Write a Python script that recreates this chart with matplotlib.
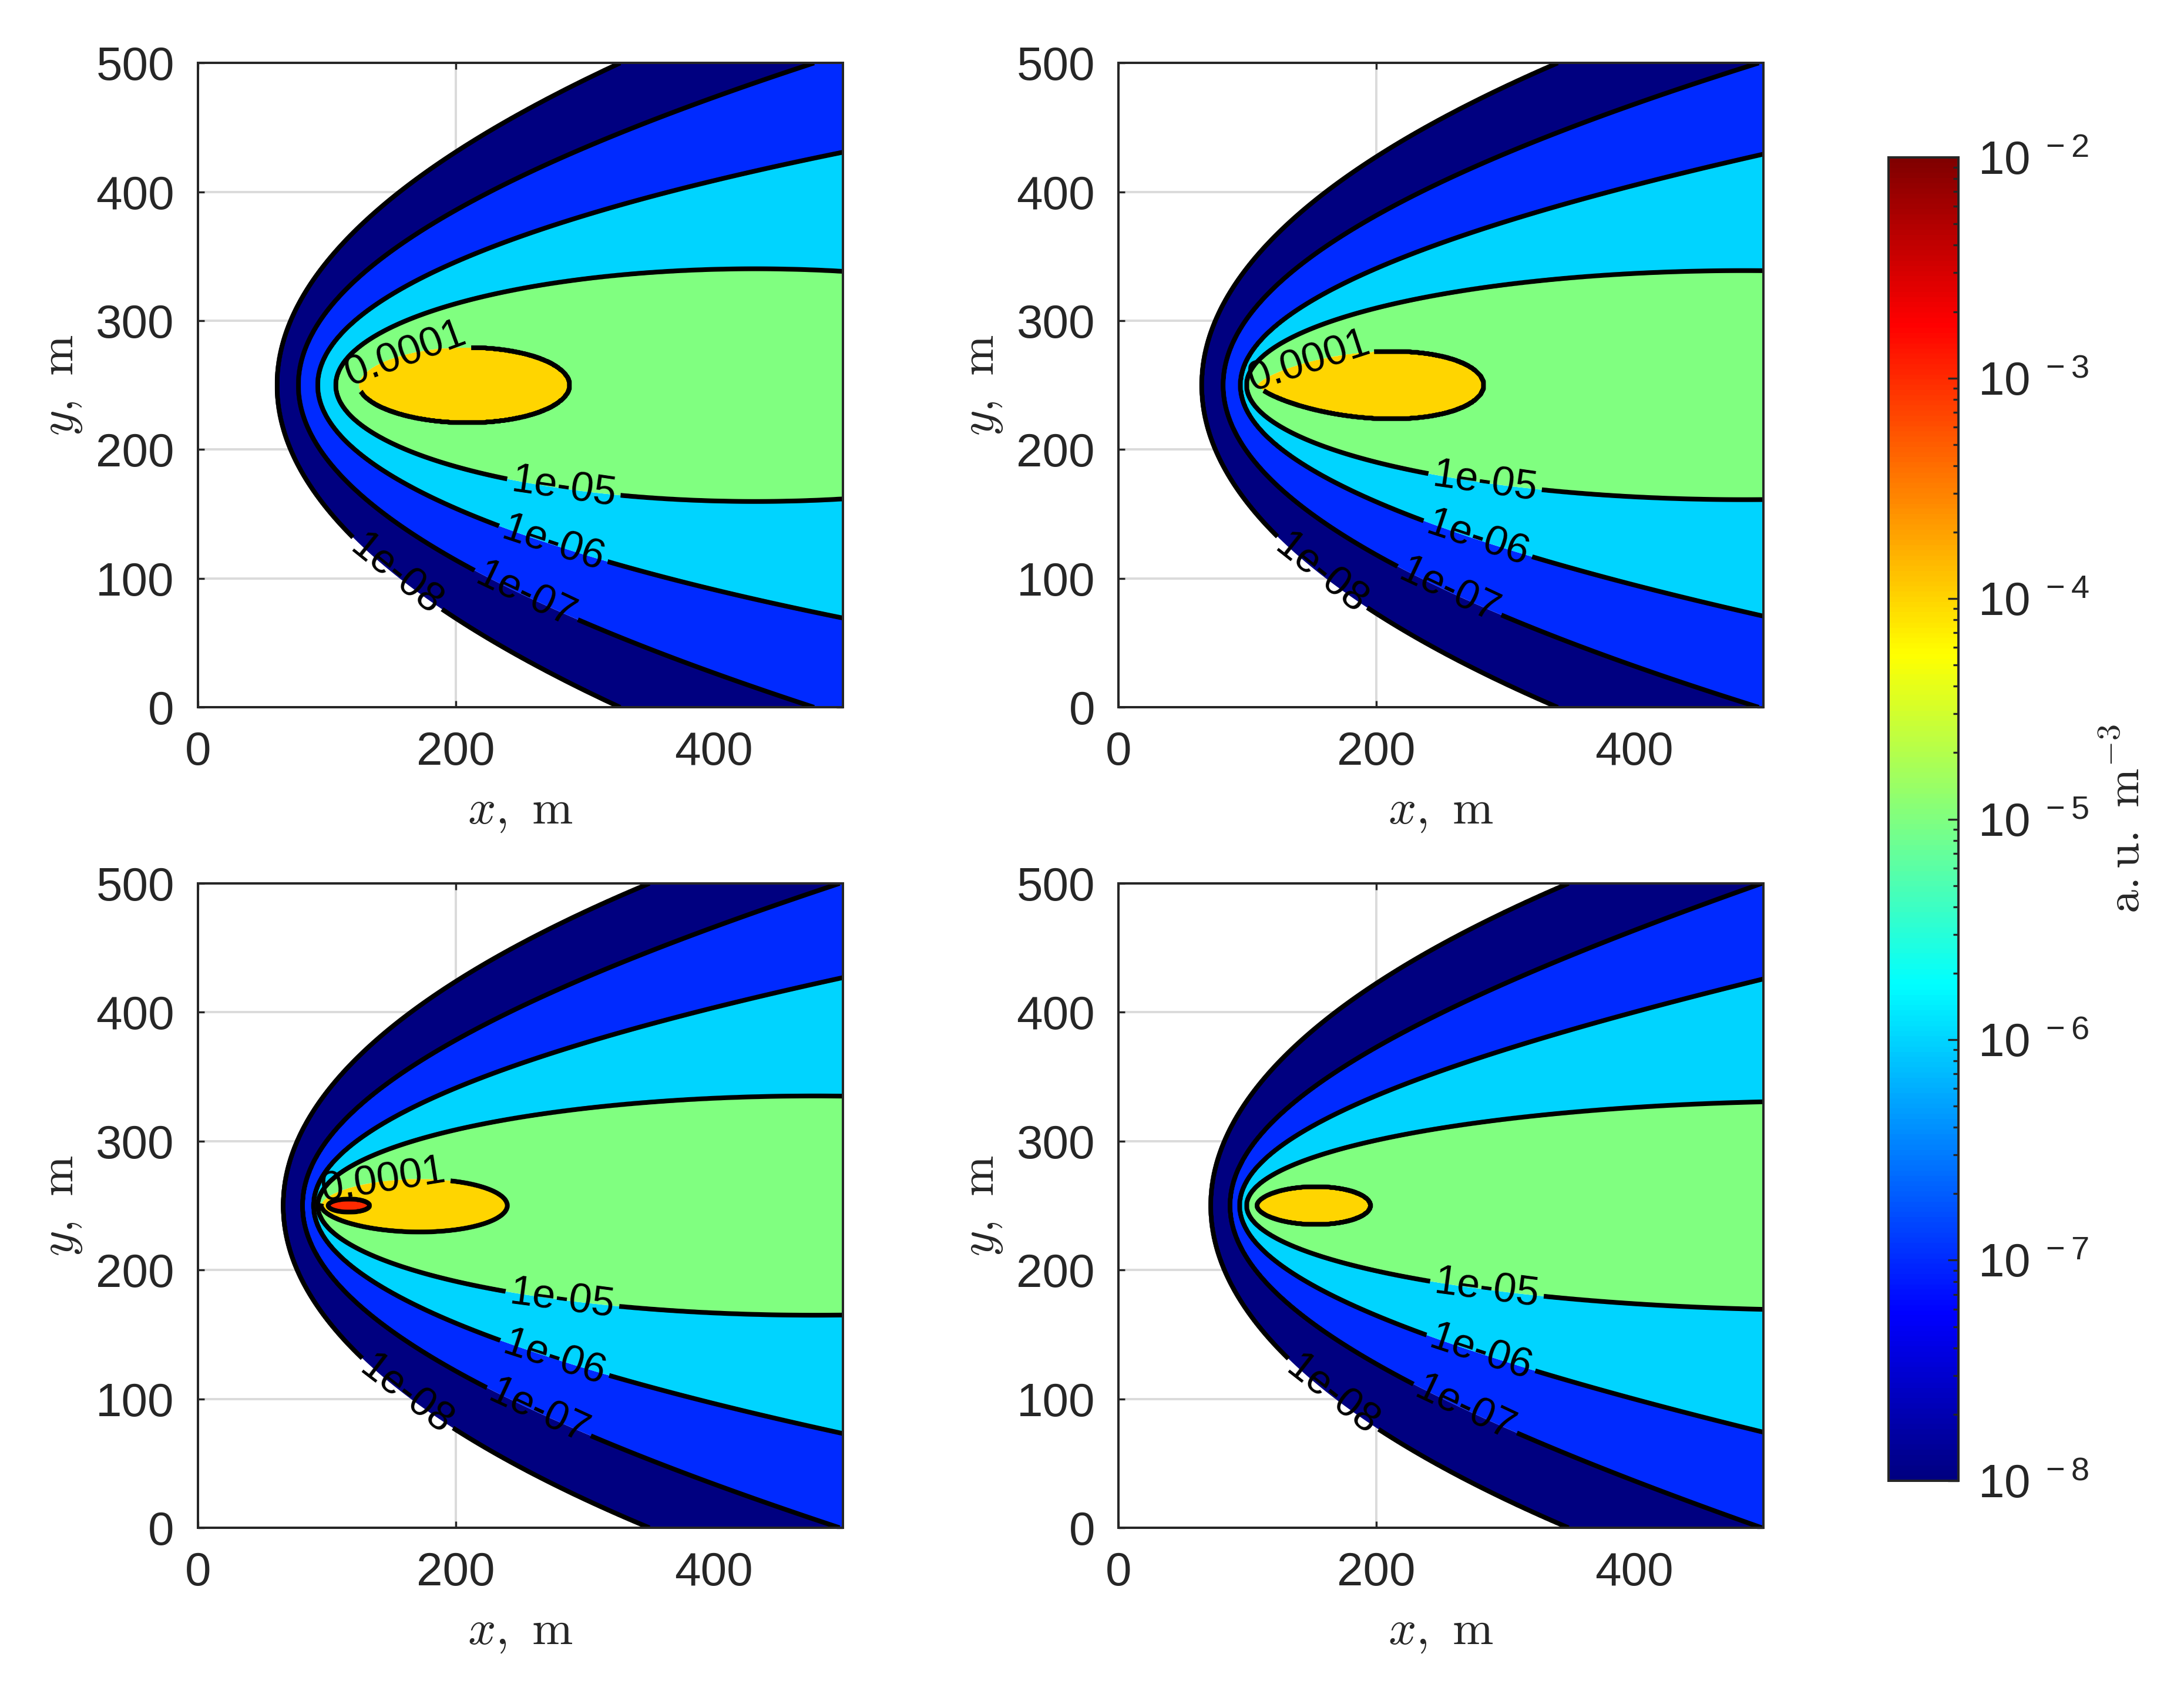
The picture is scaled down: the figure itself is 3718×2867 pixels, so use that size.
import numpy as np
import matplotlib
matplotlib.use("Agg")
import matplotlib.pyplot as plt
from matplotlib.colors import ListedColormap, LogNorm
from matplotlib.cm import ScalarMappable
from matplotlib.ticker import LogLocator, NullFormatter, FixedLocator, FixedFormatter

plt.rcParams['font.family'] = ['Liberation Sans', 'DejaVu Sans']
plt.rcParams['mathtext.fontset'] = 'cm'

# contour levels (log10 of concentration, a.u. m^-3)
open_levels = [-8, -7, -6, -5]
probe_x = [200, 300, 400, 500]

# panel data: nose position on the axis y=250 and
# half-widths of each open contour at probe_x (nan = outside the box)
nose_1 = [61.5, 78, 93, 107]
width_1 = [[181, 237, np.nan, np.nan],
           [132.6, 186.8, 222.6, np.nan],
           [94, 132.6, 158.6, 180.6],
           [64.5, 81.3, 90.3, 88.2]]
nose_2 = [64.7, 81.3, 94.7, 99.5]
width_2 = [[177.3, 231.8, np.nan, np.nan],
           [129.5, 181.4, 217.5, np.nan],
           [86.4, 129.1, 155, 179],
           [57.7, 78.8, 87, 88.5]]
nose_3 = [66.3, 81.3, 89.9, 93.1]
width_3 = [[174, 228, np.nan, np.nan],
           [126.3, 178.3, 215.6, np.nan],
           [88, 127.6, 154, 176.5],
           [54.5, 76, 85.5, 83.7]]
nose_4 = [71.7, 86.7, 94.1, 99.5]
width_4 = [[172.5, 228, np.nan, np.nan],
           [121.5, 173.5, 213.3, np.nan],
           [81.6, 122.4, 150.8, 175.4],
           [46.6, 67.3, 78.4, 79.4]]

# closed contours: level, left end, right end, x of widest point, half-width there
closed_1 = [(-4, 125, 288, 209, 29)]
closed_2 = [(-4, 108, 283, 212, 26)]
closed_3 = [(-4, 95.7, 239.8, 172, 20.4), (-3, 101, 133, 117, 5)]
closed_4 = [(-4, 107.5, 195.2, 153, 14.5)]

# contour label anchor points (x, y)
labels_1 = [(162, 266), (284, 173), (275, 125), (254, 86), (154, 103)]
labels_2 = [(148, 266), (284, 173), (277, 125), (256, 89), (159, 106)]
labels_3 = [(144, 265), (282, 173), (275, 126), (262, 85), (163, 105)]
labels_4 = [(285, 180), (280, 132), (267, 89), (170, 108)]

panels = [(nose_1, width_1, closed_1, labels_1),
          (nose_2, width_2, closed_2, labels_2),
          (nose_3, width_3, closed_3, labels_3),
          (nose_4, width_4, closed_4, labels_4)]


def jet_matlab(v):
    v = np.asarray(v, float)
    r = np.clip(1.5 - np.abs(4 * v - 3), 0, 1)
    g = np.clip(1.5 - np.abs(4 * v - 2), 0, 1)
    b = np.clip(1.5 - np.abs(4 * v - 1), 0, 1)
    return np.stack([r, g, b], axis=-1)


def open_w2(x, xn, widths):
    widths = np.asarray(widths, float)
    ok = ~np.isnan(widths)
    d = np.asarray(probe_x, float)[ok] - xn
    c1, c2 = np.linalg.lstsq(np.column_stack([d, d**2]), widths[ok]**2, rcond=None)[0]
    dx = x - xn
    return np.where(dx < 0, c1 * dx, c1 * dx + c2 * dx**2)


def closed_w2(x, xa, xb, xm, wm):
    a = (xm - xa) / (xb - xm)
    c = wm**2 / ((xm - xa)**a * (xb - xm))
    return c * np.sign(x - xa) * np.abs(x - xa)**a * (xb - x)


def build_field(X, Y, nose, width, closed):
    W2 = (Y - 250.0)**2
    lv, gs = [], []
    for lvl, xn, wd in zip(open_levels, nose, width):
        lv.append(lvl)
        gs.append(open_w2(X, xn, wd) - W2)
    for lvl, xa, xb, xm, wm in closed:
        lv.append(lvl)
        gs.append(closed_w2(X, xa, xb, xm, wm) - W2)
    v = np.where(gs[0] < 0, lv[0] + gs[0] / 1e4, lv[0])
    with np.errstate(divide='ignore', invalid='ignore'):
        for j in range(len(gs) - 1):
            m = (gs[j] >= 0) & (gs[j + 1] < 0)
            frac = gs[j] / (gs[j] - gs[j + 1])
            v = np.where(m, lv[j] + frac * (lv[j + 1] - lv[j]), v)
    v = np.where(gs[-1] >= 0, lv[-1] + 0.9 * gs[-1] / (gs[-1] + 50.0), v)
    return v


fill_levels = [-8, -7, -6, -5, -4, -3, -2]
band_colors = [tuple(jet_matlab(i / 6.0)) for i in range(6)]
grey = (0.15, 0.15, 0.15)

fig = plt.figure(figsize=(3718 / 240, 2867 / 240), dpi=240)
ax_pos = [[0.0906, 0.580, 0.2953, 0.3826], [0.5121, 0.580, 0.2953, 0.3826],
          [0.0906, 0.0928, 0.2953, 0.3826], [0.5121, 0.0928, 0.2953, 0.3826]]

xg = np.linspace(0, 500, 1001)
X, Y = np.meshgrid(xg, xg)

for pos, (nose, width, closed, lab) in zip(ax_pos, panels):
    ax = fig.add_axes(pos)
    V = build_field(X, Y, nose, width, closed)
    ax.contourf(X, Y, V, levels=fill_levels, colors=band_colors, antialiased=True)
    cs = ax.contour(X, Y, V, levels=fill_levels[:-1], colors='k',
                    linewidths=2.4, linestyles='solid')
    lab_levels = [-4, -5, -6, -7, -8] if len(lab) == 5 else [-5, -6, -7, -8]
    ax.clabel(cs, levels=lab_levels, fmt=lambda v: '%g' % (10.0 ** round(v)),
              manual=lab, inline=True, fontsize=21, inline_spacing=8)
    ax.set_xlim(0, 500)
    ax.set_ylim(0, 500)
    ax.set_xticks([0, 200, 400])
    ax.set_yticks([0, 100, 200, 300, 400, 500])
    ax.set_axisbelow(True)
    ax.grid(True, color=(0.86, 0.86, 0.86), linewidth=1.2)
    ax.tick_params(direction='in', length=3.3, width=1.0, colors=grey,
                   labelsize=24, top=True, right=True, pad=12)
    for sp in ax.spines.values():
        sp.set_color(grey)
        sp.set_linewidth(1.2)
    ax.set_xlabel(r'$x,\ \mathrm{m}$', fontsize=25, color=grey, labelpad=7)
    ax.set_ylabel(r'$y,\ \mathrm{m}$', fontsize=25, color=grey, labelpad=6)

# colour bar
cax = fig.add_axes([0.8647, 0.1207, 0.032, 0.7858])
cmap = ListedColormap(jet_matlab(np.linspace(0, 1, 256)))
sm = ScalarMappable(norm=LogNorm(1e-8, 1e-2), cmap=cmap)
cb = fig.colorbar(sm, cax=cax)
cb.outline.set_edgecolor(grey)
cb.outline.set_linewidth(1.2)
ticks = [10.0 ** e for e in range(-8, -1)]
cax.yaxis.set_major_locator(FixedLocator(ticks))
cax.yaxis.set_major_formatter(FixedFormatter([r'$\mathregular{10^{\ %d}}$' % e for e in range(-8, -1)]))
cax.yaxis.set_minor_locator(LogLocator(base=10, subs=range(2, 10)))
cax.yaxis.set_minor_formatter(NullFormatter())
cax.tick_params(which='major', direction='in', length=5.3, width=1.0, colors=grey,
                labelsize=24, pad=10)
cax.tick_params(which='minor', direction='in', length=2.6, width=1.0, colors=grey)
cb.set_label(r'$\mathrm{a.u.\ m^{-3}}$', fontsize=24, color=grey, labelpad=8)

fig.savefig('out.png', dpi=240, facecolor='white')
